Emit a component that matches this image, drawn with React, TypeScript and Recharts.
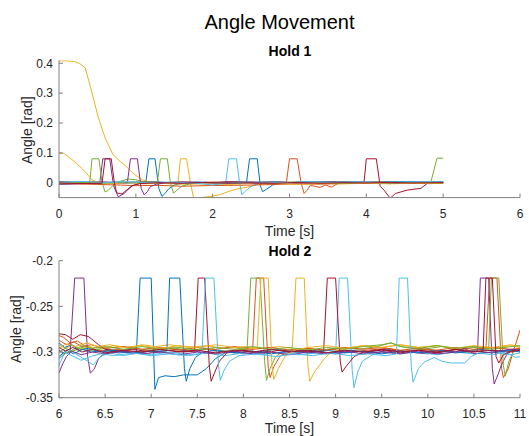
import React from 'react';
import { LineChart, Line, XAxis, YAxis } from 'recharts';

type P = [number, number][];

// ---------- Hold 1 (time [s], angle [rad]) ----------
const h1Blue1: P = [[0,-0.003],[0.25,0.001],[0.5,-0.002],[0.75,0.002],[1.0,0.0],[1.13,0.001],[1.17,0.08],[1.25,0.08],[1.3,-0.02],[1.34,-0.046],[1.38,-0.036],[1.43,-0.02],[1.5,-0.008],[1.6,-0.002],[1.8,0.002],[2.05,0.0],[2.3,0.003],[2.55,0.001],[2.8,0.003],[3.05,0.0],[3.3,0.002],[3.55,0.003],[3.8,0.001],[4.05,0.003],[4.3,0.002],[4.55,0.004],[4.8,0.002],[5.0,0.003]];
const h1Orange1: P = [[0,0.004],[0.25,0.002],[0.5,0.003],[0.75,-0.002],[1.0,0.001],[1.25,0.003],[1.5,-0.003],[1.75,-0.001],[2.0,0.002],[2.25,-0.002],[2.5,0.001],[2.75,0.0],[2.96,0.001],[3.0,0.08],[3.1,0.08],[3.15,0.0],[3.19,-0.036],[3.23,-0.025],[3.27,-0.009],[3.33,-0.012],[3.4,-0.016],[3.47,-0.008],[3.55,-0.015],[3.62,-0.004],[3.7,0.002],[3.9,0.0],[4.2,0.002],[4.5,-0.001],[4.8,0.001],[5.0,0.0]];
const h1Yellow1: P = [[0,0.408],[0.1,0.408],[0.2,0.406],[0.27,0.399],[0.34,0.385],[0.4,0.33],[0.45,0.28],[0.51,0.22],[0.6,0.15],[0.7,0.095],[0.8,0.07],[0.86,0.058],[0.93,0.04],[0.99,0.026],[1.08,0.01],[1.15,0.004],[1.3,0.0],[1.45,-0.002],[1.55,0.0],[1.58,0.08],[1.66,0.08],[1.71,0.0],[1.76,-0.06],[1.85,-0.05],[2.0,-0.045],[2.1,-0.04],[2.2,-0.03],[2.3,-0.022],[2.45,-0.015],[2.6,-0.006],[2.75,-0.001],[3.0,0.002],[3.5,-0.001],[4.0,0.002],[4.5,0.0],[5.0,0.001]];
const h1Purple1: P = [[0,-0.006],[0.2,-0.004],[0.4,-0.003],[0.53,-0.002],[0.57,0.08],[0.66,0.08],[0.71,-0.01],[0.77,-0.047],[0.81,-0.042],[0.85,-0.036],[0.9,-0.022],[0.96,-0.01],[1.05,-0.003],[1.3,0.001],[1.6,-0.002],[1.9,0.001],[2.2,-0.001],[2.5,0.002],[2.8,-0.002],[3.1,0.001],[3.4,-0.001],[3.7,0.002],[4.0,0.0],[4.3,0.002],[4.6,-0.001],[5.0,0.001]];
const h1Green1: P = [[0,0.002],[0.2,0.0],[0.4,0.001],[0.43,0.08],[0.52,0.08],[0.56,0.0],[0.6,-0.031],[0.64,-0.026],[0.7,-0.01],[0.8,0.005],[0.9,0.012],[1.0,0.01],[1.1,0.003],[1.3,0.0],[1.6,0.002],[1.9,-0.001],[2.2,0.002],[2.5,0.0],[2.8,0.002],[3.1,-0.001],[3.4,0.001],[3.7,0.002],[4.0,0.0],[4.3,0.002],[4.6,0.001],[4.84,0.002],[4.92,0.082],[5.0,0.082]];
const h1LightBlue1: P = [[0,-0.005],[0.2,-0.002],[0.4,0.001],[0.6,-0.002],[0.8,0.002],[1.0,-0.001],[1.3,0.002],[1.6,-0.002],[1.9,0.001],[2.17,0.0],[2.21,0.08],[2.31,0.08],[2.35,0.0],[2.38,-0.041],[2.42,-0.03],[2.5,-0.012],[2.6,-0.002],[2.8,0.003],[3.0,0.001],[3.3,0.003],[3.6,0.0],[3.9,0.002],[4.2,0.001],[4.5,0.003],[4.8,0.001],[5.0,0.002]];
const h1Red1: P = [[0,0.003],[0.25,0.0],[0.5,0.002],[0.75,-0.001],[1.0,0.002],[1.3,0.0],[1.6,0.002],[1.9,0.0],[2.2,0.003],[2.5,0.001],[2.8,0.002],[3.1,0.0],[3.4,0.002],[3.7,0.001],[3.97,0.002],[4.0,0.08],[4.13,0.08],[4.18,-0.012],[4.23,-0.025],[4.31,-0.052],[4.38,-0.036],[4.45,-0.031],[4.53,-0.025],[4.62,-0.022],[4.71,-0.019],[4.79,-0.003],[4.87,0.002],[5.0,0.001]];
const h1Blue2: P = [[0,0.0],[0.3,-0.002],[0.6,0.001],[0.9,-0.001],[1.2,0.002],[1.5,0.0],[1.8,0.001],[2.1,-0.001],[2.44,0.0],[2.48,0.08],[2.58,0.08],[2.62,-0.01],[2.65,-0.03],[2.7,-0.022],[2.78,-0.008],[2.9,0.0],[3.2,0.002],[3.5,0.0],[3.8,0.002],[4.1,0.0],[4.4,0.002],[4.7,0.0],[5.0,0.001]];
const h1Orange2: P = [[0,-0.002],[0.25,-0.004],[0.5,-0.006],[0.8,-0.008],[1.0,-0.01],[1.3,-0.009],[1.6,-0.012],[1.9,-0.01],[2.2,-0.009],[2.5,-0.008],[2.8,-0.006],[3.1,-0.004],[3.4,-0.005],[3.7,-0.003],[4.0,-0.002],[4.5,-0.003],[5.0,-0.002]];
const h1Yellow2: P = [[0,0.098],[0.06,0.098],[0.12,0.087],[0.18,0.075],[0.25,0.06],[0.3,0.047],[0.36,0.031],[0.43,0.009],[0.5,0.002],[0.7,-0.003],[0.9,0.0],[1.1,-0.004],[1.3,-0.002],[1.6,-0.005],[1.9,-0.004],[2.2,-0.006],[2.5,-0.003],[2.8,-0.002],[3.1,-0.006],[3.4,-0.003],[3.7,-0.004],[4.0,-0.002],[4.3,-0.004],[4.6,-0.002],[5.0,-0.003]];
const h1Purple2: P = [[0,0.001],[0.3,-0.001],[0.6,0.002],[0.89,0.0],[0.93,0.08],[1.02,0.08],[1.07,-0.02],[1.11,-0.041],[1.15,-0.03],[1.19,-0.013],[1.27,-0.005],[1.4,0.0],[1.7,0.002],[2.0,-0.001],[2.3,0.001],[2.6,-0.002],[2.9,0.001],[3.2,-0.001],[3.5,0.002],[3.8,0.0],[4.1,0.001],[4.4,-0.001],[4.7,0.002],[5.0,0.0]];
const h1Green2: P = [[0,-0.002],[0.3,0.001],[0.6,-0.001],[0.9,0.002],[1.1,0.0],[1.28,0.0],[1.32,0.08],[1.41,0.08],[1.45,0.0],[1.49,-0.035],[1.54,-0.024],[1.6,-0.012],[1.7,-0.004],[1.9,0.001],[2.2,-0.002],[2.5,0.001],[2.8,-0.001],[3.1,0.002],[3.4,0.0],[3.7,-0.002],[4.0,0.001],[4.3,-0.001],[4.6,0.001],[5.0,-0.001]];
const h1LightBlue2: P = [[0,0.002],[0.3,0.004],[0.6,0.001],[0.9,0.003],[1.2,0.0],[1.5,0.002],[1.8,-0.002],[2.0,-0.008],[2.1,-0.004],[2.4,0.0],[2.7,0.002],[3.0,0.0],[3.3,0.003],[3.6,0.001],[3.9,0.003],[4.2,0.0],[4.5,0.002],[4.8,0.003],[5.0,0.002]];
const h1Red2: P = [[0,-0.004],[0.3,-0.003],[0.56,-0.002],[0.6,0.08],[0.68,0.08],[0.72,0.0],[0.75,-0.034],[0.82,-0.038],[0.88,-0.025],[0.95,-0.01],[1.05,-0.003],[1.3,0.0],[1.6,-0.002],[1.9,0.001],[2.2,-0.002],[2.5,0.0],[2.8,-0.002],[3.1,0.001],[3.4,-0.002],[3.7,0.0],[4.0,-0.001],[4.3,0.001],[4.6,-0.001],[5.0,0.0]];

// ---------- Hold 2 ----------
const h2Blue1: P = [[6,-0.305],[6.08,-0.298],[6.16,-0.302],[6.25,-0.297],[6.35,-0.3],[6.5,-0.298],[6.65,-0.301],[6.84,-0.299],[6.88,-0.219],[7.0,-0.219],[7.04,-0.341],[7.08,-0.328],[7.15,-0.326],[7.25,-0.327],[7.35,-0.325],[7.5,-0.325],[7.6,-0.318],[7.7,-0.307],[7.8,-0.301],[7.95,-0.298],[8.15,-0.3],[8.35,-0.297],[8.55,-0.3],[8.75,-0.298],[8.95,-0.301],[9.15,-0.298],[9.35,-0.3],[9.55,-0.297],[9.75,-0.299],[9.95,-0.301],[10.15,-0.298],[10.35,-0.3],[10.55,-0.297],[10.75,-0.299],[11,-0.297]];
const h2Orange1: P = [[6,-0.282],[6.05,-0.284],[6.12,-0.29],[6.2,-0.288],[6.28,-0.293],[6.38,-0.297],[6.5,-0.299],[6.65,-0.297],[6.8,-0.3],[7.0,-0.298],[7.2,-0.296],[7.4,-0.299],[7.6,-0.297],[7.8,-0.3],[8.0,-0.297],[8.1,-0.298],[8.14,-0.219],[8.22,-0.219],[8.27,-0.318],[8.29,-0.328],[8.33,-0.316],[8.4,-0.304],[8.55,-0.298],[8.75,-0.3],[8.95,-0.297],[9.15,-0.3],[9.35,-0.298],[9.55,-0.296],[9.75,-0.299],[9.95,-0.297],[10.15,-0.3],[10.35,-0.297],[10.5,-0.299],[10.63,-0.298],[10.67,-0.219],[10.75,-0.219],[10.8,-0.318],[10.82,-0.328],[10.87,-0.319],[10.92,-0.302],[10.96,-0.289],[11,-0.276]];
const h2Yellow1: P = [[6,-0.292],[6.06,-0.296],[6.14,-0.293],[6.22,-0.297],[6.32,-0.294],[6.45,-0.296],[6.6,-0.293],[6.75,-0.295],[6.9,-0.292],[7.05,-0.294],[7.2,-0.292],[7.4,-0.295],[7.6,-0.293],[7.8,-0.296],[8.0,-0.294],[8.2,-0.296],[8.4,-0.294],[8.53,-0.296],[8.57,-0.219],[8.66,-0.219],[8.7,-0.315],[8.72,-0.332],[8.77,-0.322],[8.82,-0.315],[8.88,-0.307],[8.95,-0.3],[9.1,-0.296],[9.3,-0.293],[9.5,-0.295],[9.7,-0.292],[9.9,-0.295],[10.1,-0.293],[10.3,-0.296],[10.5,-0.294],[10.7,-0.296],[10.9,-0.293],[11,-0.295]];
const h2Purple1: P = [[6,-0.323],[6.04,-0.313],[6.08,-0.305],[6.12,-0.301],[6.17,-0.219],[6.27,-0.219],[6.31,-0.305],[6.34,-0.323],[6.38,-0.319],[6.43,-0.307],[6.5,-0.301],[6.65,-0.299],[6.8,-0.302],[7.0,-0.299],[7.2,-0.301],[7.4,-0.298],[7.6,-0.301],[7.8,-0.299],[8.0,-0.302],[8.2,-0.299],[8.4,-0.301],[8.6,-0.298],[8.8,-0.3],[9.0,-0.302],[9.2,-0.299],[9.4,-0.301],[9.6,-0.298],[9.8,-0.3],[10.0,-0.302],[10.2,-0.299],[10.4,-0.3],[10.54,-0.299],[10.57,-0.219],[10.66,-0.219],[10.7,-0.318],[10.72,-0.335],[10.76,-0.325],[10.8,-0.314],[10.86,-0.302],[10.93,-0.297],[11,-0.299]];
const h2Green1: P = [[6,-0.3],[6.07,-0.296],[6.15,-0.299],[6.25,-0.295],[6.35,-0.298],[6.5,-0.296],[6.65,-0.299],[6.8,-0.296],[7.0,-0.298],[7.2,-0.295],[7.4,-0.298],[7.6,-0.296],[7.8,-0.299],[8.04,-0.297],[8.08,-0.219],[8.18,-0.219],[8.23,-0.31],[8.25,-0.331],[8.29,-0.318],[8.35,-0.305],[8.45,-0.298],[8.65,-0.296],[8.85,-0.298],[9.05,-0.295],[9.25,-0.297],[9.45,-0.294],[9.6,-0.29],[9.75,-0.295],[9.95,-0.297],[10.15,-0.294],[10.35,-0.297],[10.5,-0.295],[10.66,-0.297],[10.69,-0.219],[10.77,-0.219],[10.82,-0.315],[10.84,-0.326],[10.88,-0.31],[10.93,-0.299],[11,-0.296]];
const h2LightBlue1: P = [[6,-0.315],[6.05,-0.303],[6.1,-0.297],[6.18,-0.302],[6.28,-0.308],[6.37,-0.314],[6.45,-0.305],[6.55,-0.301],[6.7,-0.304],[6.85,-0.301],[7.0,-0.303],[7.2,-0.3],[7.4,-0.303],[7.6,-0.301],[7.8,-0.304],[8.0,-0.301],[8.2,-0.303],[8.4,-0.3],[8.6,-0.303],[8.8,-0.301],[9.0,-0.302],[9.04,-0.219],[9.13,-0.219],[9.18,-0.32],[9.2,-0.339],[9.24,-0.322],[9.29,-0.31],[9.4,-0.303],[9.55,-0.3],[9.7,-0.302],[9.9,-0.3],[10.1,-0.303],[10.3,-0.3],[10.5,-0.302],[10.7,-0.3],[10.9,-0.303],[11,-0.301]];
const h2Red1: P = [[6,-0.28],[6.07,-0.281],[6.15,-0.286],[6.23,-0.281],[6.32,-0.283],[6.43,-0.292],[6.5,-0.297],[6.65,-0.299],[6.8,-0.297],[7.0,-0.3],[7.2,-0.298],[7.35,-0.3],[7.47,-0.299],[7.51,-0.219],[7.58,-0.219],[7.63,-0.315],[7.65,-0.332],[7.69,-0.322],[7.74,-0.31],[7.82,-0.301],[8.0,-0.298],[8.2,-0.301],[8.4,-0.298],[8.6,-0.3],[8.87,-0.299],[8.91,-0.219],[9.0,-0.219],[9.05,-0.31],[9.07,-0.322],[9.12,-0.315],[9.2,-0.305],[9.3,-0.3],[9.5,-0.298],[9.7,-0.301],[9.9,-0.298],[10.1,-0.3],[10.3,-0.297],[10.5,-0.3],[10.7,-0.298],[10.9,-0.3],[11,-0.298]];
const h2Blue2: P = [[6,-0.29],[6.06,-0.295],[6.14,-0.292],[6.22,-0.298],[6.32,-0.296],[6.45,-0.3],[6.6,-0.298],[6.8,-0.301],[7.0,-0.299],[7.17,-0.299],[7.2,-0.219],[7.31,-0.219],[7.36,-0.318],[7.38,-0.332],[7.42,-0.318],[7.48,-0.306],[7.56,-0.3],[7.7,-0.298],[7.9,-0.301],[8.1,-0.299],[8.3,-0.302],[8.5,-0.299],[8.7,-0.301],[8.9,-0.298],[9.1,-0.301],[9.3,-0.299],[9.5,-0.302],[9.7,-0.299],[9.9,-0.301],[10.1,-0.298],[10.3,-0.301],[10.5,-0.299],[10.7,-0.301],[10.9,-0.298],[11,-0.3]];
const h2Orange2: P = [[6,-0.287],[6.08,-0.292],[6.16,-0.289],[6.25,-0.294],[6.35,-0.292],[6.5,-0.296],[6.7,-0.294],[6.9,-0.297],[7.1,-0.295],[7.3,-0.298],[7.5,-0.295],[7.7,-0.297],[7.9,-0.294],[8.1,-0.297],[8.3,-0.295],[8.5,-0.298],[8.7,-0.296],[8.9,-0.298],[9.1,-0.295],[9.3,-0.297],[9.5,-0.295],[9.7,-0.298],[9.9,-0.296],[10.1,-0.298],[10.3,-0.295],[10.5,-0.297],[10.7,-0.295],[10.9,-0.297],[11,-0.296]];
const h2Yellow2: P = [[6,-0.296],[6.08,-0.291],[6.18,-0.294],[6.3,-0.29],[6.42,-0.294],[6.55,-0.292],[6.7,-0.295],[6.9,-0.293],[7.1,-0.296],[7.3,-0.293],[7.5,-0.295],[7.7,-0.292],[7.9,-0.295],[8.15,-0.296],[8.19,-0.219],[8.27,-0.219],[8.31,-0.315],[8.33,-0.33],[8.38,-0.318],[8.45,-0.305],[8.55,-0.298],[8.7,-0.295],[8.9,-0.293],[9.1,-0.296],[9.3,-0.293],[9.5,-0.295],[9.7,-0.292],[9.9,-0.295],[10.1,-0.293],[10.3,-0.296],[10.5,-0.293],[10.7,-0.295],[10.9,-0.292],[11,-0.294]];
const h2Purple2: P = [[6,-0.298],[6.06,-0.302],[6.14,-0.299],[6.24,-0.303],[6.36,-0.3],[6.5,-0.302],[6.7,-0.299],[6.9,-0.302],[7.1,-0.3],[7.3,-0.303],[7.5,-0.3],[7.7,-0.302],[7.9,-0.299],[8.1,-0.302],[8.3,-0.3],[8.5,-0.303],[8.7,-0.3],[8.9,-0.302],[9.1,-0.299],[9.3,-0.302],[9.5,-0.3],[9.7,-0.302],[9.9,-0.299],[10.1,-0.302],[10.3,-0.3],[10.4,-0.296],[10.5,-0.302],[10.7,-0.3],[10.9,-0.297],[11,-0.298]];
const h2Green2: P = [[6,-0.307],[6.08,-0.301],[6.16,-0.297],[6.26,-0.293],[6.36,-0.296],[6.5,-0.294],[6.7,-0.297],[6.9,-0.294],[7.1,-0.297],[7.3,-0.295],[7.5,-0.298],[7.7,-0.295],[7.9,-0.297],[8.1,-0.294],[8.3,-0.297],[8.5,-0.295],[8.7,-0.298],[8.9,-0.295],[9.1,-0.297],[9.3,-0.294],[9.5,-0.292],[9.6,-0.29],[9.7,-0.294],[9.9,-0.296],[10.1,-0.293],[10.3,-0.296],[10.5,-0.294],[10.7,-0.297],[10.9,-0.294],[11,-0.293]];
const h2LightBlue2: P = [[6,-0.308],[6.06,-0.3],[6.14,-0.304],[6.24,-0.309],[6.34,-0.305],[6.45,-0.302],[6.6,-0.304],[6.8,-0.301],[7.0,-0.304],[7.2,-0.302],[7.4,-0.304],[7.55,-0.302],[7.59,-0.219],[7.68,-0.219],[7.73,-0.315],[7.75,-0.331],[7.79,-0.32],[7.85,-0.31],[7.95,-0.304],[8.15,-0.302],[8.35,-0.305],[8.55,-0.302],[8.75,-0.304],[8.95,-0.301],[9.15,-0.304],[9.35,-0.302],[9.55,-0.304],[9.66,-0.302],[9.69,-0.219],[9.78,-0.219],[9.82,-0.315],[9.84,-0.333],[9.9,-0.318],[9.96,-0.311],[10.07,-0.306],[10.15,-0.31],[10.25,-0.312],[10.4,-0.312],[10.47,-0.305],[10.55,-0.301],[10.7,-0.303],[10.85,-0.3],[10.95,-0.306],[11,-0.305]];
const h2Red2: P = [[6,-0.295],[6.07,-0.299],[6.15,-0.295],[6.25,-0.3],[6.37,-0.297],[6.5,-0.301],[6.7,-0.298],[6.9,-0.3],[7.1,-0.297],[7.3,-0.3],[7.5,-0.298],[7.7,-0.301],[7.9,-0.298],[8.1,-0.3],[8.3,-0.297],[8.5,-0.3],[8.7,-0.298],[8.9,-0.301],[9.1,-0.298],[9.3,-0.3],[9.5,-0.297],[9.7,-0.3],[9.9,-0.298],[10.1,-0.301],[10.3,-0.297],[10.45,-0.3],[10.6,-0.299],[10.63,-0.219],[10.7,-0.219],[10.74,-0.305],[10.77,-0.312],[10.82,-0.303],[10.9,-0.299],[11,-0.298]];

// ---------- axes ----------
const hold1XTicks = [0, 1, 2, 3, 4, 5, 6];
const hold1YTicks = [0, 0.1, 0.2, 0.3, 0.4];
const hold2XTicks = [6, 6.5, 7, 7.5, 8, 8.5, 9, 9.5, 10, 10.5, 11];
const hold2YTicks = [-0.35, -0.3, -0.25, -0.2];

const BLUE = '#0072BD', ORANGE = '#D95319', YELLOW = '#EDB120', PURPLE = '#7E2F8E', GREEN = '#77AC30', LBLUE = '#4DBEEE', RED = '#A2142F';

const hold1Series: { data: P; color: string }[] = [
  { data: h1Blue1, color: BLUE }, { data: h1Orange1, color: ORANGE }, { data: h1Yellow1, color: YELLOW },
  { data: h1Purple1, color: PURPLE }, { data: h1Green1, color: GREEN }, { data: h1LightBlue1, color: LBLUE },
  { data: h1Red1, color: RED }, { data: h1Blue2, color: BLUE }, { data: h1Orange2, color: ORANGE },
  { data: h1Yellow2, color: YELLOW }, { data: h1Purple2, color: PURPLE }, { data: h1Green2, color: GREEN },
  { data: h1LightBlue2, color: LBLUE }, { data: h1Red2, color: RED },
];
const hold2Series: { data: P; color: string }[] = [
  { data: h2Blue1, color: BLUE }, { data: h2Orange1, color: ORANGE }, { data: h2Yellow1, color: YELLOW },
  { data: h2Purple1, color: PURPLE }, { data: h2Green1, color: GREEN }, { data: h2LightBlue1, color: LBLUE },
  { data: h2Red1, color: RED }, { data: h2Blue2, color: BLUE }, { data: h2Orange2, color: ORANGE },
  { data: h2Yellow2, color: YELLOW }, { data: h2Purple2, color: PURPLE }, { data: h2Green2, color: GREEN },
  { data: h2LightBlue2, color: LBLUE }, { data: h2Red2, color: RED },
];

const toRows = (p: P) => p.map(([t, v]) => ({ t, v }));

const FONT = '"Liberation Sans", Arial, Helvetica, sans-serif';
const AXIS = '#808080';
const TEXT = '#262626';

function Panel(props: {
  series: { data: P; color: string }[];
  xDomain: [number, number]; xTicks: number[];
  yDomain: [number, number]; yTicks: number[];
  top: number; bottom: number; xTickMargin: number;
}) {
  const { series, xDomain, xTicks, yDomain, yTicks, top, bottom, xTickMargin } = props;
  return (
    <div style={{ position: 'absolute', left: 0, top: 0 }}>
      <LineChart width={529} height={436} margin={{ top, right: 9, bottom, left: 0 }}>
        <XAxis type="number" dataKey="t" domain={xDomain} ticks={xTicks} interval={0} allowDataOverflow
          height={30} tickSize={-4} tickMargin={xTickMargin} stroke={AXIS}
          tick={{ fill: TEXT, fontSize: 12, fontFamily: FONT }} />
        <YAxis type="number" dataKey="v" domain={yDomain} ticks={yTicks} interval={0} allowDataOverflow
          width={59} tickSize={-4} tickMargin={10} stroke={AXIS}
          tick={{ fill: TEXT, fontSize: 12, fontFamily: FONT }} />
        {series.map((s, i) => (
          <Line key={i} data={toRows(s.data)} dataKey="v" type="linear" stroke={s.color} strokeWidth={1}
            dot={false} activeDot={false} isAnimationActive={false} />
        ))}
      </LineChart>
    </div>
  );
}

export default function App() {
  return (
    <div style={{ position: 'absolute', left: 0, top: 0, width: 529, height: 436, background: '#fff', overflow: 'hidden' }}>
      <Panel series={hold1Series} xDomain={[0, 6]} xTicks={hold1XTicks} yDomain={[-0.05, 0.41]} yTicks={hold1YTicks}
        top={60.3} bottom={208.4} xTickMargin={15.5} />
      <Panel series={hold2Series} xDomain={[6, 11]} xTicks={hold2XTicks} yDomain={[-0.35, -0.2]} yTicks={hold2YTicks}
        top={260.7} bottom={8.3} xTickMargin={15.4} />
      <svg width={529} height={436} style={{ position: 'absolute', left: 0, top: 0, pointerEvents: 'none' }}>
        <g fontFamily={FONT}>
          <text x={279.5} y={29.3} fontSize={20} textAnchor="middle" fill="#000">Angle Movement</text>
          <text x={290} y={55.7} fontSize={14} fontWeight="bold" textAnchor="middle" fill="#000">Hold 1</text>
          <text x={290} y={256} fontSize={14} fontWeight="bold" textAnchor="middle" fill="#000">Hold 2</text>
          <text x={289.5} y={235.5} fontSize={14} textAnchor="middle" fill={TEXT}>Time [s]</text>
          <text x={289.5} y={433.3} fontSize={14} textAnchor="middle" fill={TEXT}>Time [s]</text>
          <text transform="translate(31.7,130.2) rotate(-90)" fontSize={14} textAnchor="middle" fill={TEXT}>Angle [rad]</text>
          <text transform="translate(21,329.2) rotate(-90)" fontSize={14} textAnchor="middle" fill={TEXT}>Angle [rad]</text>
        </g>
      </svg>
    </div>
  );
}
